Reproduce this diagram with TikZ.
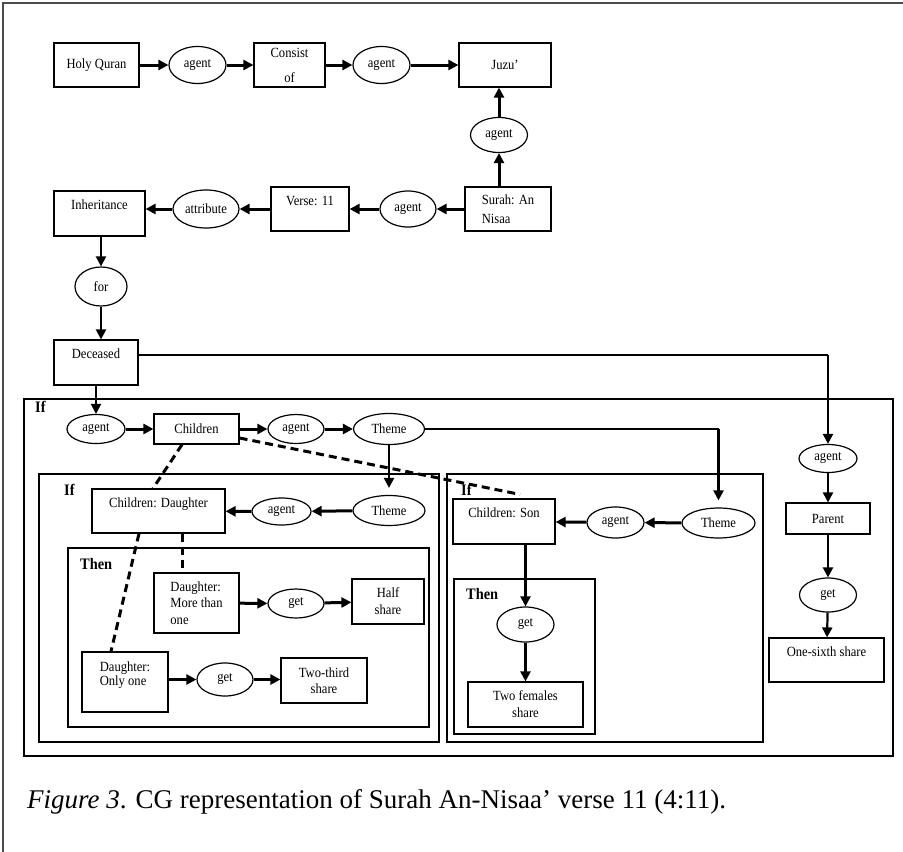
\documentclass[tikz,border=0pt]{standalone}
\usepackage{fontspec}
\setmainfont{Liberation Serif}[FakeStretch=0.9]
\newfontfamily\capfont{Liberation Serif}
\usetikzlibrary{shapes.geometric,arrows.meta}

\begin{document}
\begin{tikzpicture}[x=1pt,y=-1pt,
    >={Triangle[length=10pt,width=10pt]},
    font=\fontsize{14}{17}\selectfont,
    box/.style={draw,line width=1.2pt,rectangle,inner sep=0pt},
    rel/.style={draw,line width=1.2pt,ellipse,inner sep=0pt},
    raised/.style={text depth=17pt},
    frame/.style={draw,line width=1.2pt},
    tag/.style={font=\fontsize{16}{19}\selectfont\bfseries,anchor=west,inner sep=0pt},
    link/.style={->,line width=3pt},
    mid/.style={->,line width=2.2pt},
    wire/.style={line width=1.2pt},
    coref/.style={line width=3pt,dash pattern=on 8pt off 5pt}]
  \useasboundingbox (0,0) rectangle (903,852);
  \draw[line width=1.5pt,black!70] (3,852) -- (3,3) -- (903,3);

  \node[box,minimum width=85,minimum height=44] (quran) at (96.5,65) {Holy Quran};
  \node[rel,minimum width=57,minimum height=37] (agA) at (197.5,65) {agent};
  \node[box,minimum width=71,minimum height=44,align=center] (consist) at (289.5,65) {Consist\\[8pt]of};
  \node[rel,minimum width=57,minimum height=37] (agB) at (381.5,65) {agent};
  \node[box,minimum width=92,minimum height=44] (juzu) at (505,65) {Juzu’};
  \node[rel,minimum width=57,minimum height=35] (agC) at (499,135) {agent};
  \node[box,minimum width=86,minimum height=44,align=left] (surah) at (508,209) {Surah: An\\[2pt]Nisaa};
  \node[rel,minimum width=56,minimum height=36] (agD) at (408,209) {agent};
  \node[box,minimum width=78,minimum height=44,raised] (verse) at (310,209) {Verse: 11};
  \node[rel,minimum width=66,minimum height=38] (attr) at (206,209) {attribute};
  \node[box,minimum width=91,minimum height=45,raised] (inherit) at (99.5,213.5) {Inheritance};
  \node[rel,minimum width=52,minimum height=39] (forrel) at (101,286.5) {for};
  \node[box,minimum width=84,minimum height=45,raised] (deceased) at (96,362.5) {Deceased};

  \draw[link] (quran) -- (agA);
  \draw[link] (agA) -- (consist);
  \draw[link] (consist) -- (agB);
  \draw[link] (agB) -- (agB -| juzu.west);
  \draw[link] (agC |- surah.north) -- (agC);
  \draw[link] (agC) -- (agC |- juzu.south);
  \draw[link] (surah) -- (agD);
  \draw[link] (agD) -- (verse);
  \draw[link] (verse) -- (attr);
  \draw[link] (attr) -- (attr -| inherit.east);
  \draw[mid] (inherit.south -| forrel) -- (forrel);
  \draw[mid] (forrel) -- (forrel |- deceased.north);

  \draw[frame] (24,399) rectangle (893,756);
  \node[tag] at (35,407) {If};
  \node[rel,minimum width=58,minimum height=29] (agIf) at (96,429) {agent};
  \node[box,minimum width=85,minimum height=30] (children) at (196.5,429) {Children};
  \node[rel,minimum width=56,minimum height=29] (agE) at (296,429) {agent};
  \node[rel,minimum width=71,minimum height=31] (themeT) at (389,429) {Theme};

  \draw[frame] (39,474) rectangle (439,742);
  \node[tag] at (64,490) {If};
  \draw[frame] (447,474) rectangle (763,742);
  \node[tag] at (461,490) {If};
  \draw[frame] (68,548) rectangle (429,727);
  \node[tag] at (80,564) {Then};
  \draw[frame] (454,579) rectangle (595,734);
  \node[tag] at (466,594) {Then};

  \node[box,minimum width=133,minimum height=44,raised] (daughter) at (158.5,511) {Children: Daughter};
  \node[rel,minimum width=59,minimum height=27] (agF) at (281.5,511.5) {agent};
  \node[rel,minimum width=72,minimum height=30] (themeL) at (389,510.5) {Theme};
  \node[box,minimum width=102,minimum height=45,raised] (son) at (504,521.5) {Children: Son};
  \node[rel,minimum width=57,minimum height=31] (agG) at (615.5,522.5) {agent};
  \node[rel,minimum width=73,minimum height=30] (themeR) at (718.5,523) {Theme};
  \node[rel,minimum width=57,minimum height=35] (getS) at (525.5,624.5) {get};
  \node[box,minimum width=115,minimum height=45,align=center] (females) at (525.5,704.5) {Two females\\share};
  \node[box,minimum width=85,minimum height=60,align=left] (more) at (196.5,603) {Daughter:\\[-0.5pt]More than\\[-0.5pt]one};
  \node[rel,minimum width=56,minimum height=29] (getM) at (296,603.5) {get};
  \node[box,minimum width=72,minimum height=45,align=center] (half) at (388,601.5) {Half\\share};
  \node[box,minimum width=86,minimum height=60,align=left,raised] (only) at (125,682) {Daughter:\\[-3pt]Only one};
  \node[rel,minimum width=56,minimum height=33] (getO) at (225,679.5) {get};
  \node[box,minimum width=86,minimum height=45,align=center] (twothird) at (324,680.5) {Two-third\\[-1pt]share};
  \node[rel,minimum width=58,minimum height=28] (agP) at (828,458.5) {agent};
  \node[box,minimum width=84,minimum height=31] (parent) at (828,518.5) {Parent};
  \node[rel,minimum width=57,minimum height=34] (getP) at (828,595) {get};
  \node[box,minimum width=115,minimum height=44,raised] (sixth) at (826.5,660) {One-sixth share};

  \coordinate (dturn) at (828,355);
  \draw[wire] (deceased.east |- dturn) -- (dturn);
  \draw[mid] (dturn) -- (agP);
  \draw[mid] (agP) -- (parent);
  \draw[mid] (parent) -- (getP);
  \draw[mid] (getP) -- (sixth);
  \draw[mid] (deceased.south -| agIf) -- (agIf);
  \draw[link] (agIf) -- (children);
  \draw[link] (children) -- (agE);
  \draw[link] (agE) -- (themeT);
  \draw[mid] (themeT) -- ([yshift=7pt]themeL.north);
  \coordinate (tturn) at (themeR.north |- themeT.east);
  \draw[wire] (themeT) -- (tturn);
  \draw[mid] (tturn) -- ([yshift=7pt]themeR.north);
  \draw[link] (themeL) -- (agF);
  \draw[link] (agF) -- (daughter);
  \draw[link] (themeR) -- (agG);
  \draw[link] (agG) -- (son);
  \draw[mid] (son.south -| getS) -- (getS);
  \draw[mid] (getS) -- (females);
  \draw[link] (more) -- (getM);
  \draw[link] (getM) -- (half);
  \draw[link] (only.east |- getO) -- (getO);
  \draw[link] (getO) -- (getO -| twothird.west);

  \draw[coref] ([xshift=-14.5pt]children.south) -- ([xshift=-5.5pt]daughter.north);
  \draw[coref] ([yshift=-9pt]children.east) -- ([xshift=16pt,yshift=4pt]son.north);
  \draw[coref] ([xshift=23.5pt]daughter.south) -- ([xshift=-14.5pt]more.north);
  \draw[coref] ([xshift=-19.5pt]daughter.south) -- ([xshift=-14pt]only.north);

  \node[anchor=base west,inner sep=0pt,font=\capfont\fontsize{27}{32}\selectfont] (caption) at (27,808) {\textit{Figure 3}. CG representation of Surah An-Nisaa’ verse 11 (4:11).};
\end{tikzpicture}
\end{document}
